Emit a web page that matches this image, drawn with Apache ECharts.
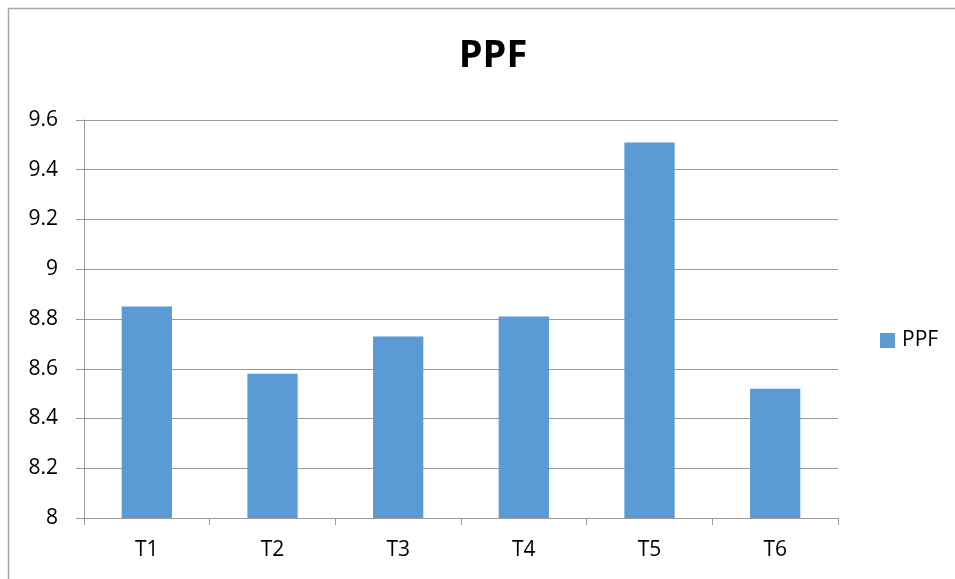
<!DOCTYPE html>
<html>
<head>
<meta charset="utf-8">
<script src="https://cdn.jsdelivr.net/npm/echarts@6/dist/echarts.min.js"></script>
<style>html,body{margin:0;padding:0;background:#fff}#c{width:955px;height:579px}</style>
</head>
<body>
<div id="c"></div>
<script>
const categories = ['T1', 'T2', 'T3', 'T4', 'T5', 'T6'];
const ppfValues = [8.85, 8.58, 8.73, 8.81, 9.51, 8.52];
const seriesName = 'PPF';
const chartTitle = 'PPF';

const chart = echarts.init(document.getElementById('c'), null, {renderer: 'canvas'});
const font = "'Open Sans', 'Noto Sans', sans-serif";
chart.setOption({
  animation: false,
  backgroundColor: '#fff',
  textStyle: {fontFamily: font},
  title: {
    text: chartTitle, left: 488, top: 32, textAlign: 'center',
    textStyle: {fontSize: 38, fontWeight: 'bold', color: '#000', fontFamily: font}
  },
  legend: {
    data: [seriesName], orient: 'vertical', left: 875, top: 325,
    itemWidth: 15, itemHeight: 15, itemGap: 8,
    icon: 'rect',
    textStyle: {fontSize: 21, color: '#000', fontFamily: font, padding: [0,0,0,2]}
  },
  grid: {left: 84, right: 117, top: 120, bottom: 61, containLabel: false},
  xAxis: {
    type: 'category', data: categories,
    axisLine: {lineStyle: {color: '#999', width: 1}},
    axisTick: {show: true, length: 7, lineStyle: {color: '#999'}},
    axisLabel: {fontSize: 21, color: '#000', margin: 22, fontFamily: font}
  },
  yAxis: {
    type: 'value', min: 8, max: 9.6, interval: 0.2,
    axisLine: {show: true, lineStyle: {color: '#999', width: 1}},
    axisTick: {show: true, length: 8, lineStyle: {color: '#999'}},
    splitLine: {lineStyle: {color: '#999', width: 1}},
    axisLabel: {fontSize: 21, color: '#000', margin: 26, fontFamily: font,
      formatter: v => String(Math.round(v * 10) / 10)}
  },
  series: [{
    name: seriesName, type: 'bar', data: ppfValues, barWidth: '40%',
    itemStyle: {color: '#5b9bd5'}
  }],
  graphic: [{
    type: 'polyline', silent: true,
    shape: {points: [[8.5, 600], [8.5, 8.5], [960, 8.5]]},
    style: {stroke: '#a6a6a6', lineWidth: 1.5, fill: null}
  }]
});
</script>
</body>
</html>
